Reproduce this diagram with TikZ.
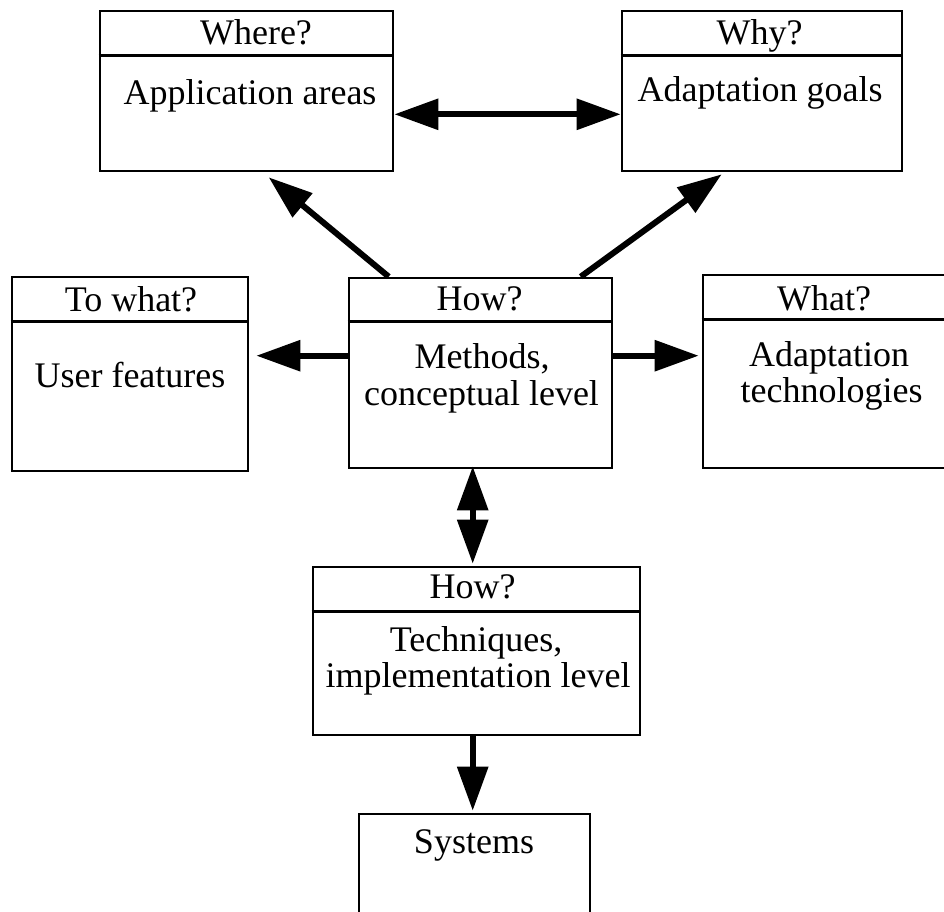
\documentclass[tikz,border=0pt]{standalone}
\usepackage{fontspec}
\setmainfont{Liberation Serif}
\usetikzlibrary{arrows.meta,calc}
\begin{document}
\begin{tikzpicture}[x=1pt,y=-1pt,
  box/.style={draw,line width=2.6pt,inner sep=0pt},
  rule/.style={line width=2.6pt},
  lbl/.style={anchor=base,inner sep=0pt,font=\fontsize{36}{36}\selectfont},
  conn/.style={line width=6pt,-{Triangle[length=44pt,width=30pt]}},
  conntwo/.style={line width=6pt,{Triangle[length=44pt,width=30pt]}-{Triangle[length=44pt,width=30pt]}}]
\useasboundingbox (0,0) rectangle (944,911);
\clip (0,0) rectangle (944,911);

% boxes
\node[box,minimum width=293pt,minimum height=160pt] (where)   at (246.5,91)  {};
\node[box,minimum width=280pt,minimum height=160pt] (why)     at (762,91)    {};
\node[box,minimum width=236pt,minimum height=194pt] (towhat)  at (130,374)   {};
\node[box,minimum width=263pt,minimum height=190pt] (how1)    at (480.5,373) {};
\node[box,minimum width=249pt,minimum height=193pt] (what)    at (827.5,371.5) {};
\node[box,minimum width=327pt,minimum height=168pt] (how2)    at (476.5,651) {};
\node[box,minimum width=231pt,minimum height=116pt] (systems) at (474.5,872) {};

% header rules
\draw[rule] ($(where.north west)+(0,46)$)  -- ($(where.north east)+(0,46)$);
\draw[rule] ($(why.north west)+(0,46)$)    -- ($(why.north east)+(0,46)$);
\draw[rule] ($(towhat.north west)+(0,46)$) -- ($(towhat.north east)+(0,46)$);
\draw[rule] ($(how1.north west)+(0,45)$)   -- ($(how1.north east)+(0,45)$);
\draw[rule] ($(what.north west)+(0,46)$)   -- ($(what.north east)+(0,46)$);
\draw[rule] ($(how2.north west)+(0,46)$)   -- ($(how2.north east)+(0,46)$);

% labels
\node[lbl] (whereq) at (256,44)    {Where?};
\node[lbl] (wheret) at (250,104)   {Application areas};
\node[lbl] (whyq)   at (759.5,44)  {Why?};
\node[lbl] (whyt)   at (760,101)   {Adaptation goals};
\node[lbl] (towq)   at (131,311)   {To what?};
\node[lbl] (towt)   at (130,387)   {User features};
\node[lbl] (howq)   at (479.5,310) {How?};
\node[lbl] (howta)  at (482,368)   {Methods,};
\node[lbl] (howtb)  at (481.5,405) {conceptual level};
\node[lbl] (whatq)  at (824,310)   {What?};
\node[lbl] (whatta) at (829,366)   {Adaptation};
\node[lbl] (whattb) at (831.5,402) {technologies};
\node[lbl] (hwq)    at (472.5,598) {How?};
\node[lbl] (hwta)   at (476,651)   {Techniques,};
\node[lbl] (hwtb)   at (478,687)   {implementation level};
\node[lbl] (syst)   at (474,853)   {Systems};

% connectors
\draw[conntwo] ($(where.south east)+(0,-58)$) -- ($(why.south west)+(0,-58)$);
\draw[conn] ($(how1.north west)+(41,0)$)  -- ($(where.south west)+(170,5)$);
\draw[conn] ($(how1.north west)+(233,0)$) -- ($(why.south west)+(101,2)$);
\draw[conn] ($(how1.north west)+(0,79)$)  -- ($(towhat.north east)+(7,80)$);
\draw[conn] ($(how1.north east)+(0,79)$)  -- ($(what.north west)+(-3,82)$);
\draw[conntwo] ($(how1.south west)+(125,-3)$) -- ($(how2.north west)+(161,-2)$);
\draw[conn] ($(how2.south west)+(161,0)$) -- ($(systems.north west)+(115,-2)$);
\end{tikzpicture}
\end{document}
